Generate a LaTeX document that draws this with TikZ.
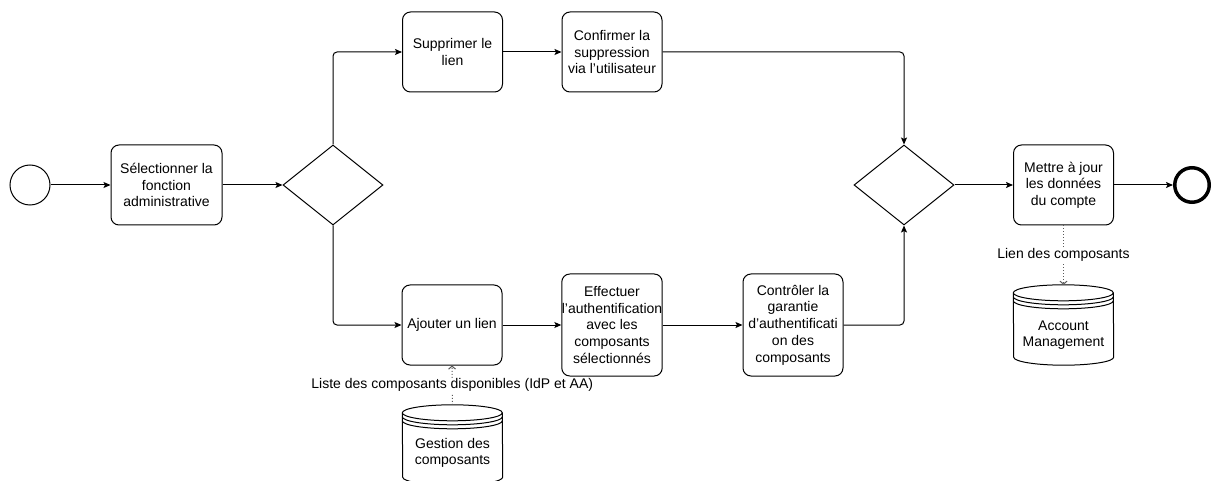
\documentclass[tikz,border=0pt]{standalone}
\usepackage{fontspec}
\setmainfont{Liberation Sans}
\usetikzlibrary{arrows.meta,shapes.geometric}

% cylinder-like data store drawn around a (borderless) node
\newcommand\drawstore[1]{%
  \draw[storeline,fill=white]
    ([yshift=-8pt]#1.north west) arc[start angle=180,end angle=0,x radius=50pt,y radius=8pt]
    -- ([yshift=8pt]#1.south east) arc[start angle=0,end angle=-180,x radius=50pt,y radius=8pt]
    -- cycle;
  \draw[storeline] ([yshift=-8pt]#1.north west) arc[start angle=180,end angle=360,x radius=50pt,y radius=8pt];
  \draw[storeline] ([yshift=-12pt]#1.north west) arc[start angle=180,end angle=360,x radius=50pt,y radius=8pt];
  \draw[storeline] ([yshift=-16pt]#1.north west) arc[start angle=180,end angle=360,x radius=50pt,y radius=8pt];
}

\begin{document}
\begin{tikzpicture}[x=1pt,y=1pt,
  font=\fontsize{14}{16.7}\selectfont,
  every node/.style={inner sep=0pt},
  task/.style={draw,line width=1pt,rounded corners=8pt,minimum width=100pt,minimum height=80pt,align=center},
  gateway/.style={draw,line width=1pt,diamond,minimum width=100pt,minimum height=80pt},
  startev/.style={draw,line width=1pt,circle,minimum size=40pt},
  endev/.style={draw,line width=3.5pt,circle,minimum size=34.5pt},
  store/.style={minimum width=100pt,minimum height=80pt},
  storeline/.style={line width=1pt},
  storetext/.style={align=center},
  flow/.style={line width=1pt,-{Stealth[length=7pt,width=6pt,inset=1.5pt]}},
  assoc/.style={black!65,line width=1pt,dash pattern=on 1pt off 2pt,-{Straight Barb[length=3pt,width=7pt]}},
  assoclabel/.style={fill=white,inner sep=1pt}
]
\useasboundingbox (0,0) rectangle (1219,480);

% events and gateways
\node[startev] (start) at (30,295) {};
\node[gateway] (gw1) at (333,295) {};
\node[gateway] (gw2) at (904,295) {};
\node[endev] (end) at (1192,295) {};

% tasks
\node[task,minimum width=111pt] (sel) at (166.5,295) {Sélectionner la\\fonction\\administrative};
\node[task] (sup) at (452.5,428) {Supprimer le\\lien};
\node[task] (conf) at (612,428) {Confirmer la\\suppression\\via l’utilisateur};
\node[task] (ajout) at (452,155) {Ajouter un lien};
\node[task,minimum height=102pt] (eff) at (612,155) {Effectuer\\l’authentification\\avec les\\composants\\sélectionnés};
\node[task,minimum height=102pt] (ctrl) at (793,155) {Contrôler la\\garantie\\d’authentificati\\on des\\composants};
\node[task] (maj) at (1063.5,295) {Mettre à jour\\les données\\du compte};

% data stores
\node[store] (acc) at (1063.5,155) {};
\drawstore{acc}
\node[storetext] (acctext) at (1063.5,145) {Account\\Management};
\node[store] (gest) at (452.5,35) {};
\drawstore{gest}
\node[storetext] (gesttext) at (452.5,27) {Gestion des\\composants};

% sequence flows
\draw[flow] (start) -- (sel);
\draw[flow] (sel) -- (gw1);
\draw[flow,rounded corners=4pt] (gw1.north) |- (sup.west);
\draw[flow] (sup) -- (conf);
\draw[flow,rounded corners=4pt] (conf.east) -| (gw2.north);
\draw[flow,rounded corners=4pt] (gw1.south) |- (ajout.west);
\draw[flow] (ajout) -- (eff);
\draw[flow] (eff) -- (ctrl);
\draw[flow,rounded corners=4pt] (ctrl.east) -| (gw2.south);
\draw[flow] (gw2) -- (maj);
\draw[flow] (maj) -- (end);

% data associations
\draw[assoc] (maj.south) -- node[assoclabel,text=black] (lienlbl) {Lien des composants} (acc.north);
\draw[assoc] (gest.north) -- node[assoclabel,text=black] (listelbl) {Liste des composants disponibles (IdP et AA)} (ajout.south);
\end{tikzpicture}
\end{document}
